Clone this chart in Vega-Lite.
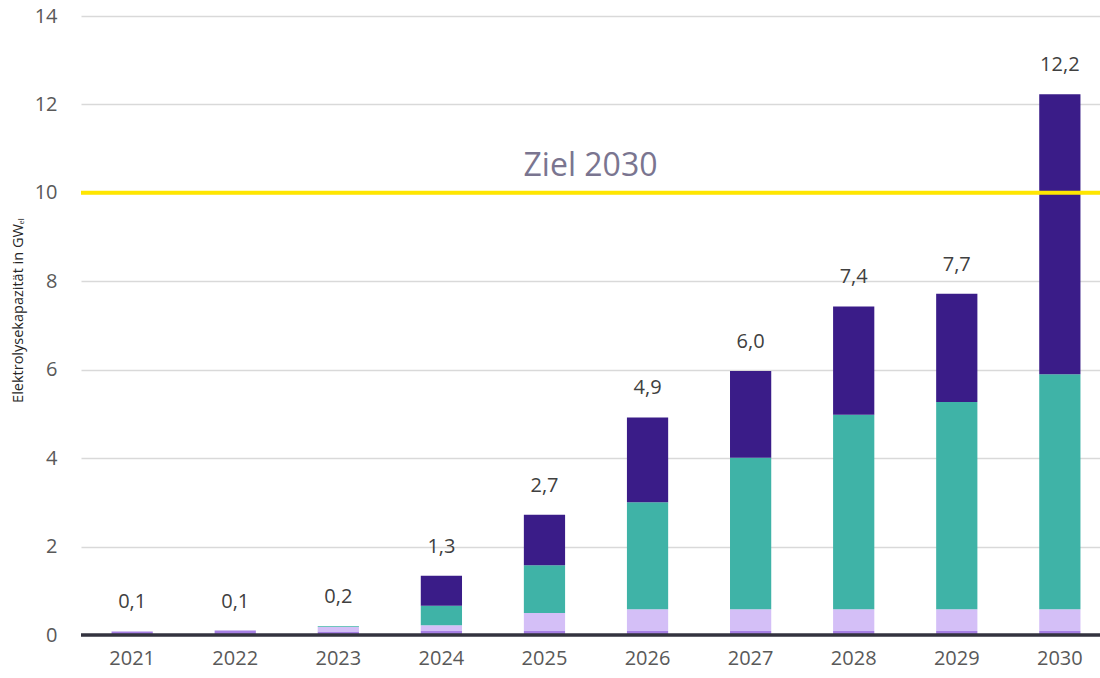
{
  "$schema": "https://vega.github.io/schema/vega-lite/v6.json",
  "width": 1019,
  "height": 619,
  "autosize": "none",
  "padding": {"left": 81, "top": 16, "right": 0, "bottom": 43},
  "background": "white",
  "config": {
    "view": {"stroke": null},
    "locale": {"number": {"decimal": ",", "thousands": ".", "grouping": [3], "currency": ["", " €"]}},
    "font": "Open Sans"
  },
  "datasets": {
    "segments": [
      {"year": "2021", "series": "Segment 1", "rank": 1, "value": 0.08},
      {"year": "2022", "series": "Segment 1", "rank": 1, "value": 0.10},
      {"year": "2023", "series": "Segment 1", "rank": 1, "value": 0.08},
      {"year": "2023", "series": "Segment 2", "rank": 2, "value": 0.10},
      {"year": "2023", "series": "Segment 3", "rank": 3, "value": 0.02},
      {"year": "2024", "series": "Segment 1", "rank": 1, "value": 0.09},
      {"year": "2024", "series": "Segment 2", "rank": 2, "value": 0.13},
      {"year": "2024", "series": "Segment 3", "rank": 3, "value": 0.44},
      {"year": "2024", "series": "Segment 4", "rank": 4, "value": 0.68},
      {"year": "2025", "series": "Segment 1", "rank": 1, "value": 0.09},
      {"year": "2025", "series": "Segment 2", "rank": 2, "value": 0.41},
      {"year": "2025", "series": "Segment 3", "rank": 3, "value": 1.08},
      {"year": "2025", "series": "Segment 4", "rank": 4, "value": 1.14},
      {"year": "2026", "series": "Segment 1", "rank": 1, "value": 0.09},
      {"year": "2026", "series": "Segment 2", "rank": 2, "value": 0.49},
      {"year": "2026", "series": "Segment 3", "rank": 3, "value": 2.42},
      {"year": "2026", "series": "Segment 4", "rank": 4, "value": 1.92},
      {"year": "2027", "series": "Segment 1", "rank": 1, "value": 0.09},
      {"year": "2027", "series": "Segment 2", "rank": 2, "value": 0.49},
      {"year": "2027", "series": "Segment 3", "rank": 3, "value": 3.43},
      {"year": "2027", "series": "Segment 4", "rank": 4, "value": 1.96},
      {"year": "2028", "series": "Segment 1", "rank": 1, "value": 0.09},
      {"year": "2028", "series": "Segment 2", "rank": 2, "value": 0.49},
      {"year": "2028", "series": "Segment 3", "rank": 3, "value": 4.40},
      {"year": "2028", "series": "Segment 4", "rank": 4, "value": 2.45},
      {"year": "2029", "series": "Segment 1", "rank": 1, "value": 0.09},
      {"year": "2029", "series": "Segment 2", "rank": 2, "value": 0.49},
      {"year": "2029", "series": "Segment 3", "rank": 3, "value": 4.69},
      {"year": "2029", "series": "Segment 4", "rank": 4, "value": 2.45},
      {"year": "2030", "series": "Segment 1", "rank": 1, "value": 0.09},
      {"year": "2030", "series": "Segment 2", "rank": 2, "value": 0.49},
      {"year": "2030", "series": "Segment 3", "rank": 3, "value": 5.32},
      {"year": "2030", "series": "Segment 4", "rank": 4, "value": 6.33}
    ],
    "totals": [
      {"year": "2021", "total": 0.1, "top": 0.08},
      {"year": "2022", "total": 0.1, "top": 0.10},
      {"year": "2023", "total": 0.2, "top": 0.20},
      {"year": "2024", "total": 1.3, "top": 1.34},
      {"year": "2025", "total": 2.7, "top": 2.72},
      {"year": "2026", "total": 4.9, "top": 4.92},
      {"year": "2027", "total": 6.0, "top": 5.97},
      {"year": "2028", "total": 7.4, "top": 7.43},
      {"year": "2029", "total": 7.7, "top": 7.72},
      {"year": "2030", "total": 12.2, "top": 12.23}
    ],
    "target": [{"value": 10, "label": "Ziel 2030"}],
    "zero": [{"value": 0}]
  },
  "layer": [
    {
      "data": {"name": "segments"},
      "mark": {"type": "bar"},
      "encoding": {
        "x": {
          "field": "year",
          "type": "ordinal",
          "scale": {"type": "band", "paddingInner": 0.6, "paddingOuter": 0.243, "align": 0.61},
          "axis": {
            "title": null,
            "labelAngle": 0,
            "labelFontSize": 20,
            "labelColor": "#595959",
            "labelFont": "Open Sans",
            "labelPadding": 13,
            "ticks": false,
            "domain": false
          }
        },
        "y": {
          "field": "value",
          "type": "quantitative",
          "stack": "zero",
          "scale": {"domain": [0, 14], "nice": false},
          "axis": {
            "title": "Elektrolysekapazität in GWₑₗ",
            "titleFontSize": 14.5,
            "titleFontWeight": "normal",
            "titleColor": "#262626",
            "titleFont": "Open Sans",
            "titleX": -63,
            "titleY": 294,
            "titleBaseline": "middle",
            "titleAlign": "center",
            "titleAngle": 270,
            "values": [0, 2, 4, 6, 8, 10, 12, 14],
            "labelFontSize": 20,
            "labelColor": "#595959",
            "labelFont": "Open Sans",
            "labelPadding": 24,
            "ticks": false,
            "domain": false,
            "grid": true,
            "gridColor": "#D9D9D9",
            "gridWidth": 1.5
          }
        },
        "color": {
          "field": "series",
          "type": "nominal",
          "scale": {
            "domain": ["Segment 1", "Segment 2", "Segment 3", "Segment 4"],
            "range": ["#A67FE4", "#D4BFF7", "#3FB3A7", "#3A1C88"]
          },
          "legend": null
        },
        "order": {"field": "rank", "type": "quantitative"}
      }
    },
    {
      "data": {"name": "zero"},
      "mark": {"type": "rule", "color": "#33333F", "strokeWidth": 3.5},
      "encoding": {"y": {"field": "value", "type": "quantitative"}}
    },
    {
      "data": {"name": "target"},
      "mark": {"type": "rule", "color": "#FFE600", "strokeWidth": 4},
      "encoding": {"y": {"field": "value", "type": "quantitative"}}
    },
    {
      "data": {"name": "target"},
      "mark": {"type": "text", "font": "Open Sans", "fontSize": 32, "color": "#7A7590", "baseline": "bottom", "dy": -10},
      "encoding": {
        "y": {"field": "value", "type": "quantitative"},
        "text": {"field": "label", "type": "nominal"}
      }
    },
    {
      "data": {"name": "totals"},
      "mark": {"type": "text", "fontSize": 20, "font": "Open Sans", "color": "#404040", "baseline": "middle", "dy": -29},
      "encoding": {
        "x": {"field": "year", "type": "ordinal"},
        "y": {"field": "top", "type": "quantitative"},
        "text": {"field": "total", "type": "quantitative", "format": ".1f"}
      }
    }
  ]
}
